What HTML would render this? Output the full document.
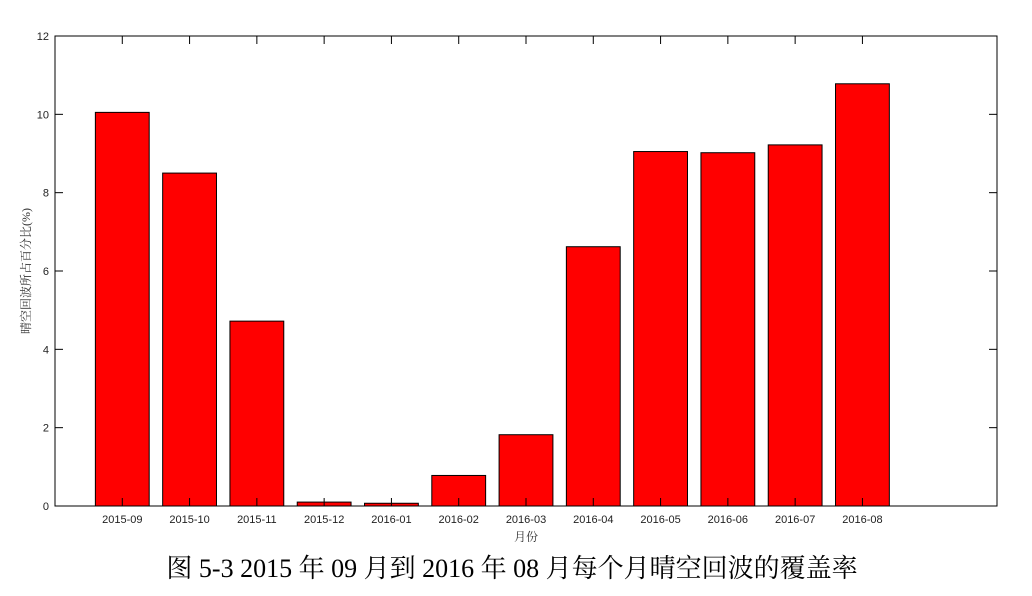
<!DOCTYPE html>
<html><head><meta charset="utf-8">
<style>
html,body{margin:0;padding:0;background:#fff;width:1032px;height:596px;overflow:hidden}
svg text{font-family:"Liberation Sans","Noto Sans CJK SC",sans-serif}
</style></head>
<body>
<svg id="chart" width="1032" height="596" xmlns="http://www.w3.org/2000/svg">
<g id="plot"></g>
<text x="0" y="0" transform="translate(30,271) rotate(-90)" text-anchor="middle" font-size="12" fill="#333" style="font-family:'Liberation Serif','Noto Serif CJK SC',serif">晴空回波所占百分比(%)</text>
<text x="526" y="541" text-anchor="middle" font-size="12" fill="#333" style="font-family:'Liberation Serif','Noto Serif CJK SC',serif">月份</text>
<text x="512" y="577" text-anchor="middle" font-size="26" fill="#000" style="font-family:'Liberation Serif','Noto Serif CJK SC',serif">图 5-3 2015 年 09 月到 2016 年 08 月每个月晴空回波的覆盖率</text>
</svg>
<script>
const categories = ["2015-09","2015-10","2015-11","2015-12","2016-01","2016-02","2016-03","2016-04","2016-05","2016-06","2016-07","2016-08"];
const values = [10.05, 8.5, 4.72, 0.1, 0.07, 0.78, 1.82, 6.62, 9.05, 9.02, 9.22, 10.78];
const yTicks = [0, 2, 4, 6, 8, 10, 12];

const L = 55, R = 997, T = 36, B = 506;
const xMin = 0, xMax = 14, yMin = 0, yMax = 12;
const xs = v => L + (v - xMin) / (xMax - xMin) * (R - L);
const ys = v => B - (v - yMin) / (yMax - yMin) * (B - T);
const NS = "http://www.w3.org/2000/svg";
const g = document.getElementById("plot");
function mk(tag, attrs) { const e = document.createElementNS(NS, tag); for (const k in attrs) e.setAttribute(k, attrs[k]); g.appendChild(e); return e; }

const frame = mk("rect", {x: L, y: T, width: R - L, height: B - T, fill: "#fff", stroke: "#000", "stroke-width": 1});



values.forEach((v, i) => {
  const c = i + 1, w = 0.8;
  const r = mk("rect", {x: xs(c - w / 2), y: ys(v), width: xs(c + w / 2) - xs(c - w / 2), height: ys(0) - ys(v), fill: "#ff0000", stroke: "#000", "stroke-width": 1});
  
  
  const t = mk("text", {x: xs(c), y: B + 17, "text-anchor": "middle", "font-size": 11, fill: "#222"});
  t.textContent = categories[i];
  
  
  mk("line", {x1: xs(c), x2: xs(c), y1: B, y2: B - 8, stroke: "#000"});
  mk("line", {x1: xs(c), x2: xs(c), y1: T, y2: T + 8, stroke: "#000"});
});

yTicks.forEach(v => {
  const y = ys(v);
  mk("line", {x1: L, x2: L + 8, y1: y, y2: y, stroke: "#000"});
  mk("line", {x1: R, x2: R - 8, y1: y, y2: y, stroke: "#000"});
  const t = mk("text", {x: L - 6, y: y + 4, "text-anchor": "end", "font-size": 11, fill: "#222"});
  t.textContent = v;
  
  
});
</script>
</body></html>
